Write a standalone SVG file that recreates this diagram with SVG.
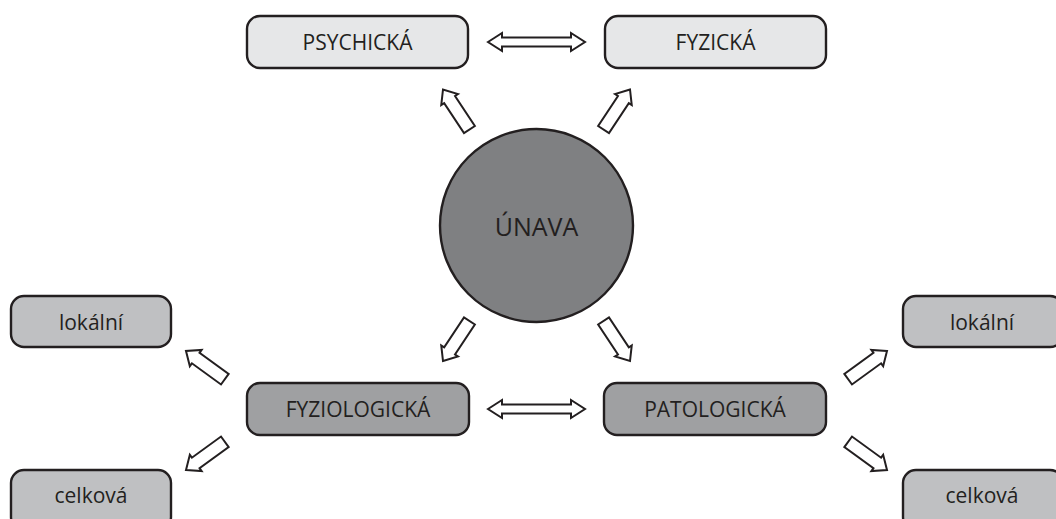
<svg xmlns="http://www.w3.org/2000/svg" width="1056" height="519" viewBox="0 0 1056 519">
<style>
.box{stroke:#231f20;stroke-width:2.4}
.top{fill:#e6e7e8}
.mid{fill:#9fa0a2}
.side{fill:#bfc0c2}
.t{font-family:"Open Sans","Liberation Sans",sans-serif;font-size:21px;fill:#231f20;text-anchor:middle;dominant-baseline:central}
.arr{fill:#fff;stroke:#231f20;stroke-width:2;stroke-linejoin:miter}
</style>
<rect width="1056" height="519" fill="#fff"/>
<g id="psychicka"><rect class="box top" x="247" y="16" width="221" height="52" rx="13"/><text class="t" x="357.5" y="42">PSYCHICKÁ</text></g>
<g id="fyzicka"><rect class="box top" x="605" y="16" width="221" height="52" rx="13"/><text class="t" x="715.5" y="42">FYZICKÁ</text></g>
<g id="unava"><circle cx="536.5" cy="225.5" r="96.5" fill="#7f8082" stroke="#231f20" stroke-width="2.4"/><text class="t" x="536.5" y="225.5" style="font-size:25px">ÚNAVA</text></g>
<g id="fyziologicka"><rect class="box mid" x="247" y="383" width="222" height="52" rx="13"/><text class="t" x="358" y="409">FYZIOLOGICKÁ</text></g>
<g id="patologicka"><rect class="box mid" x="604" y="383" width="222" height="52" rx="13"/><text class="t" x="715" y="409">PATOLOGICKÁ</text></g>
<g id="lokalni-l"><rect class="box side" x="11" y="296" width="160" height="51" rx="13"/><text class="t" x="91" y="321.5">lokální</text></g>
<g id="celkova-l"><rect class="box side" x="11" y="470" width="160" height="60" rx="13"/><text class="t" x="91" y="494.5">celková</text></g>
<g id="lokalni-r"><rect class="box side" x="903" y="296" width="160" height="51" rx="13"/><text class="t" x="982" y="321.5">lokální</text></g>
<g id="celkova-r"><rect class="box side" x="903" y="470" width="160" height="60" rx="13"/><text class="t" x="982" y="494.5">celková</text></g>
<g id="connectors">
<path class="arr" d="M488,42 L502,33 V37.5 H571 V33 L585,42 L571,51 V46.5 H502 V51 Z"/>
<path class="arr" d="M488,409 L502,400 V404.5 H571 V400 L585,409 L571,418 V413.5 H502 V418 Z"/>
<g transform="translate(443,89.5) rotate(-123.4)"><path class="arr" d="M0,0 L-12,-10 V-6.5 H-48 V6.5 H-12 V10 Z"/></g>
<g transform="translate(630,89.5) rotate(-56.6)"><path class="arr" d="M0,0 L-12,-10 V-6.5 H-48 V6.5 H-12 V10 Z"/></g>
<g transform="translate(443,361) rotate(123.4)"><path class="arr" d="M0,0 L-12,-10 V-6.5 H-48 V6.5 H-12 V10 Z"/></g>
<g transform="translate(630,361) rotate(56.6)"><path class="arr" d="M0,0 L-12,-10 V-6.5 H-48 V6.5 H-12 V10 Z"/></g>
<g transform="translate(186,351) rotate(-144)"><path class="arr" d="M0,0 L-12,-10 V-6.5 H-48 V6.5 H-12 V10 Z"/></g>
<g transform="translate(186,470) rotate(144)"><path class="arr" d="M0,0 L-12,-10 V-6.5 H-48 V6.5 H-12 V10 Z"/></g>
<g transform="translate(887,351) rotate(-36)"><path class="arr" d="M0,0 L-12,-10 V-6.5 H-48 V6.5 H-12 V10 Z"/></g>
<g transform="translate(887,470) rotate(36)"><path class="arr" d="M0,0 L-12,-10 V-6.5 H-48 V6.5 H-12 V10 Z"/></g>
</g>
</svg>
